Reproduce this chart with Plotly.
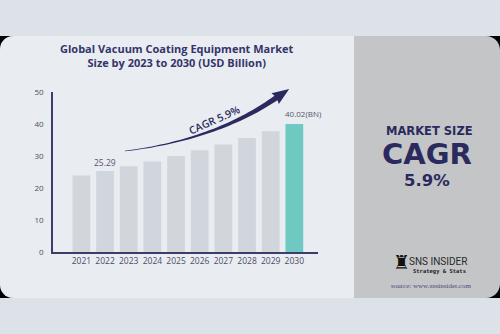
import numpy as np
import plotly.graph_objects as go

years = ["2021", "2022", "2023", "2024", "2025", "2026", "2027", "2028", "2029", "2030"]
values = [23.9, 25.29, 26.8, 28.3, 30.0, 31.8, 33.6, 35.6, 37.7, 40.02]
bar_colors = ["#d1d6dd"] * 9 + ["#6dc9c1"]
y_ticks = [0, 10, 20, 30, 40, 50]
title_lines = ["Global Vacuum Coating Equipment Market", "Size by 2023 to 2030 (USD Billion)"]
cagr_text = "CAGR 5.9%"
first_label = "25.29"
last_label = "40.02(BN)"

NAVY = "#2b2a5e"
W, H = 500, 334
L, R, T, B = 53, 182, 92, 82
PW, PH = W - L - R, H - T - B


def px(x):
    return (x - L) / PW


def py(y):
    return (H - B - y) / PH


def path_from(points, close=True):
    s = "M " + " L ".join(f"{px(x):.5f},{py(y):.5f}" for x, y in points)
    return s + (" Z" if close else "")


def rounded_rect(x0, y0, x1, y1, rtl, rtr, rbr, rbl, n=8):
    pts = []
    def arc(cx, cy, r, a0, a1):
        for a in np.linspace(a0, a1, n):
            pts.append((cx + r * np.cos(a), cy + r * np.sin(a)))
    if rtl: arc(x0 + rtl, y0 + rtl, rtl, np.pi, 1.5 * np.pi)
    else: pts.append((x0, y0))
    if rtr: arc(x1 - rtr, y0 + rtr, rtr, 1.5 * np.pi, 2 * np.pi)
    else: pts.append((x1, y0))
    if rbr: arc(x1 - rbr, y1 - rbr, rbr, 0, 0.5 * np.pi)
    else: pts.append((x1, y1))
    if rbl: arc(x0 + rbl, y1 - rbl, rbl, 0.5 * np.pi, np.pi)
    else: pts.append((x0, y1))
    return path_from(pts)


shapes = []
shapes.append(dict(type="rect", xref="paper", yref="paper", x0=px(0), x1=px(500), y0=py(36), y1=py(298),
                   fillcolor="#000000", line=dict(width=0), layer="below"))
shapes.append(dict(type="path", xref="paper", yref="paper", path=rounded_rect(0, 36, 355, 298, 13, 0, 0, 13),
                   fillcolor="#e9ecf1", line=dict(width=0), layer="below"))
shapes.append(dict(type="path", xref="paper", yref="paper", path=rounded_rect(354, 36, 500, 298, 0, 14, 14, 0),
                   fillcolor="#c4c5c7", line=dict(width=0), layer="below"))

# curved CAGR arrow (decoration)
P0, C, E = np.array([125.0, 151.0]), np.array([215.0, 140.0]), np.array([276.0, 98.0])
ts = np.linspace(0, 1, 40)
pts = np.array([(1 - t) ** 2 * P0 + 2 * (1 - t) * t * C + t ** 2 * E for t in ts])
der = np.array([2 * (1 - t) * (C - P0) + 2 * t * (E - C) for t in ts])
nrm = np.stack([der[:, 1], -der[:, 0]], axis=1)
nrm /= np.linalg.norm(nrm, axis=1, keepdims=True)
half = 0.3 + 2.4 * ts ** 1.3
upper = pts + nrm * half[:, None]
lower = pts - nrm * half[:, None]
d = der[-1] / np.linalg.norm(der[-1])
n_end = nrm[-1]
tip = E + d * 16
head = [tuple(E + n_end * 6.5 - d * 1), tuple(tip), tuple(E - n_end * 6.5 - d * 1)]
poly = [tuple(p) for p in upper] + head + [tuple(p) for p in lower[::-1]]
shapes.append(dict(type="path", xref="paper", yref="paper", path=path_from(poly),
                   fillcolor=NAVY, line=dict(width=0)))

fig = go.Figure()
fig.add_trace(go.Bar(x=years, y=values, marker=dict(color=bar_colors, line=dict(width=0)),
                     hoverinfo="skip"))


def ptext(x, y, text, font, **kw):
    return dict(xref="paper", yref="paper", x=px(x), y=py(y), text=text, showarrow=False,
                xanchor="center", yanchor="middle", font=font, **kw)


annotations = [
    ptext(177, 55, "<br>".join(title_lines),
          dict(family="Open Sans", size=11, color="#34356a", weight="bold"), align="center"),
    dict(xref="x", yref="y", x=1, y=values[1], text=first_label, showarrow=False, xanchor="center",
         yanchor="bottom", yshift=1, font=dict(family="Open Sans", size=8.5, color="#55576e")),
    dict(xref="x", yref="y", x=len(years) - 1, y=values[-1], text=last_label, showarrow=False, xanchor="center",
         yanchor="bottom", yshift=3, xshift=9, font=dict(family="Open Sans", size=8, color="#55576e")),
    ptext(214, 120, cagr_text, dict(family="Open Sans", size=10.5, color=NAVY, weight=600), textangle=-24),
    ptext(429, 130.5, "MARKET SIZE", dict(family="DejaVu Sans", size=11.5, color=NAVY, weight="bold")),
    ptext(427, 154, "CAGR", dict(family="DejaVu Sans", size=29, color=NAVY, weight="bold")),
    ptext(427, 180, "5.9%", dict(family="DejaVu Sans", size=16.5, color=NAVY, weight="bold")),
    ptext(401, 262, "♜", dict(family="DejaVu Sans", size=19, color="#111111")),
    ptext(438, 261, "SNS INSIDER", dict(family="Roboto", size=10, color="#2a2a2a")),
    ptext(439, 271, "Strategy &amp; Stats", dict(family="DejaVu Sans Mono", size=5.5, color="#222222", weight="bold")),
    ptext(431, 286, "source: www.snsinsider.com", dict(family="Liberation Serif", size=7, color="#4b4a7a")),
]

fig.update_layout(
    width=W, height=H,
    margin=dict(l=L, r=R, t=T, b=B, pad=0),
    paper_bgcolor="#dde2e9",
    plot_bgcolor="rgba(0,0,0,0)",
    showlegend=False,
    bargap=0.25,
    shapes=shapes,
    annotations=annotations,
    xaxis=dict(type="category", range=[-1.2, 10.0], showgrid=False, zeroline=False,
               showline=True, linecolor="#3d3d6b", linewidth=1.5, ticks="",
               tickfont=dict(family="Open Sans", size=8.5, color="#4a4c66"), automargin=False, fixedrange=True),
    yaxis=dict(range=[0, 50], tickvals=y_ticks, showgrid=False, zeroline=False,
               showline=True, linecolor="#3d3d6b", linewidth=1.5, ticks="",
               ticklabelstandoff=6,
               tickfont=dict(family="Open Sans", size=8, color="#4a4c66"), automargin=False, fixedrange=True),
)

fig.write_html("out.html", config=dict(displayModeBar=False))
